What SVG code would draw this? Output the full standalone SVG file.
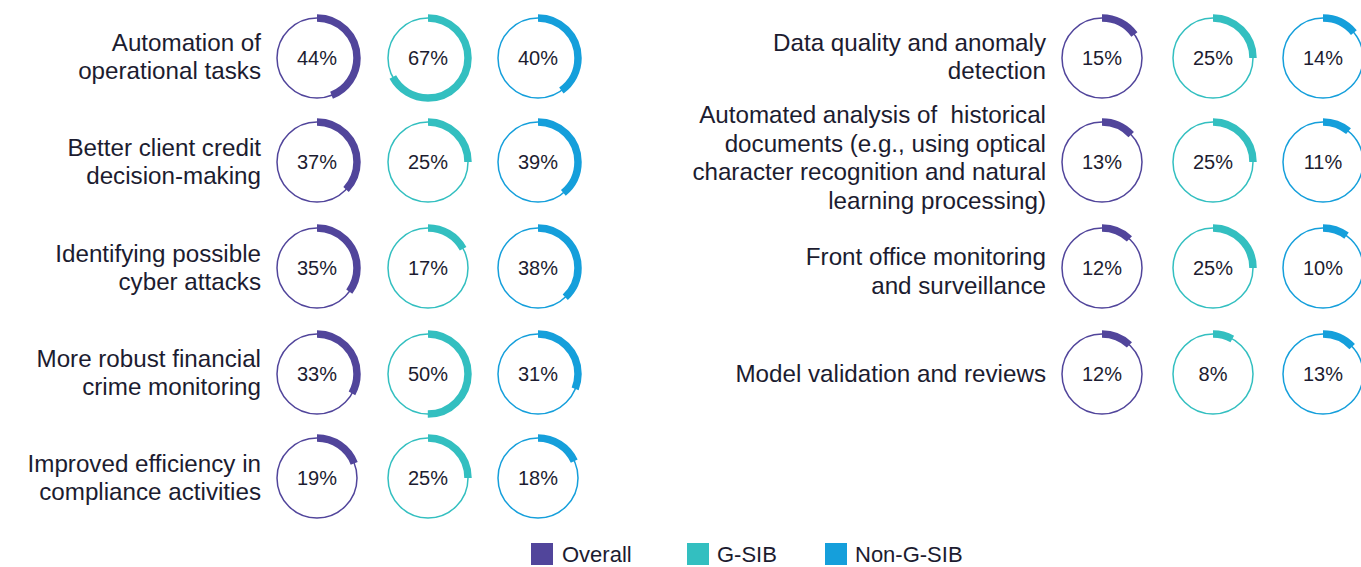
<svg xmlns="http://www.w3.org/2000/svg" width="1361" height="567" viewBox="0 0 1361 567">
<style>
text{font-family:"Liberation Sans",Arial,sans-serif;fill:#1c1c30}
.lbl{font-size:24.2px;text-anchor:end}
.pct{font-size:20px;text-anchor:middle}
.leg{font-size:22px}
.ring{fill:none;stroke-width:1.5}
.arc{fill:none;stroke-width:7.5}
.o{stroke:#51459b}.g{stroke:#33bfc0}.n{stroke:#159fdb}
</style>
<rect width="1361" height="567" fill="#fff"/>
<g id="row-automation">
<text class="lbl" x="261" y="51">Automation of</text>
<text class="lbl" x="261" y="79">operational tasks</text>
<circle class="ring o" cx="317" cy="58" r="40"/><circle class="arc o" cx="317" cy="58" r="40" stroke-dasharray="110.59 251.33" transform="rotate(-90 317 58)"/><text class="pct" x="317" y="65">44%</text>
<circle class="ring g" cx="428" cy="58" r="40"/><circle class="arc g" cx="428" cy="58" r="40" stroke-dasharray="168.39 251.33" transform="rotate(-90 428 58)"/><text class="pct" x="428" y="65">67%</text>
<circle class="ring n" cx="538" cy="58" r="40"/><circle class="arc n" cx="538" cy="58" r="40" stroke-dasharray="100.53 251.33" transform="rotate(-90 538 58)"/><text class="pct" x="538" y="65">40%</text>
</g>
<g id="row-credit">
<text class="lbl" x="261" y="156">Better client credit</text>
<text class="lbl" x="261" y="184">decision-making</text>
<circle class="ring o" cx="317" cy="162" r="40"/><circle class="arc o" cx="317" cy="162" r="40" stroke-dasharray="92.99 251.33" transform="rotate(-90 317 162)"/><text class="pct" x="317" y="169">37%</text>
<circle class="ring g" cx="428" cy="162" r="40"/><circle class="arc g" cx="428" cy="162" r="40" stroke-dasharray="62.83 251.33" transform="rotate(-90 428 162)"/><text class="pct" x="428" y="169">25%</text>
<circle class="ring n" cx="538" cy="162" r="40"/><circle class="arc n" cx="538" cy="162" r="40" stroke-dasharray="98.02 251.33" transform="rotate(-90 538 162)"/><text class="pct" x="538" y="169">39%</text>
</g>
<g id="row-cyber">
<text class="lbl" x="261" y="262">Identifying possible</text>
<text class="lbl" x="261" y="290">cyber attacks</text>
<circle class="ring o" cx="317" cy="268" r="40"/><circle class="arc o" cx="317" cy="268" r="40" stroke-dasharray="87.96 251.33" transform="rotate(-90 317 268)"/><text class="pct" x="317" y="275">35%</text>
<circle class="ring g" cx="428" cy="268" r="40"/><circle class="arc g" cx="428" cy="268" r="40" stroke-dasharray="42.73 251.33" transform="rotate(-90 428 268)"/><text class="pct" x="428" y="275">17%</text>
<circle class="ring n" cx="538" cy="268" r="40"/><circle class="arc n" cx="538" cy="268" r="40" stroke-dasharray="95.51 251.33" transform="rotate(-90 538 268)"/><text class="pct" x="538" y="275">38%</text>
</g>
<g id="row-crime">
<text class="lbl" x="261" y="367">More robust financial</text>
<text class="lbl" x="261" y="395">crime monitoring</text>
<circle class="ring o" cx="317" cy="374" r="40"/><circle class="arc o" cx="317" cy="374" r="40" stroke-dasharray="82.94 251.33" transform="rotate(-90 317 374)"/><text class="pct" x="317" y="381">33%</text>
<circle class="ring g" cx="428" cy="374" r="40"/><circle class="arc g" cx="428" cy="374" r="40" stroke-dasharray="125.66 251.33" transform="rotate(-90 428 374)"/><text class="pct" x="428" y="381">50%</text>
<circle class="ring n" cx="538" cy="374" r="40"/><circle class="arc n" cx="538" cy="374" r="40" stroke-dasharray="77.91 251.33" transform="rotate(-90 538 374)"/><text class="pct" x="538" y="381">31%</text>
</g>
<g id="row-compliance">
<text class="lbl" x="261" y="472">Improved efficiency in</text>
<text class="lbl" x="261" y="500">compliance activities</text>
<circle class="ring o" cx="317" cy="478" r="40"/><circle class="arc o" cx="317" cy="478" r="40" stroke-dasharray="47.75 251.33" transform="rotate(-90 317 478)"/><text class="pct" x="317" y="485">19%</text>
<circle class="ring g" cx="428" cy="478" r="40"/><circle class="arc g" cx="428" cy="478" r="40" stroke-dasharray="62.83 251.33" transform="rotate(-90 428 478)"/><text class="pct" x="428" y="485">25%</text>
<circle class="ring n" cx="538" cy="478" r="40"/><circle class="arc n" cx="538" cy="478" r="40" stroke-dasharray="45.24 251.33" transform="rotate(-90 538 478)"/><text class="pct" x="538" y="485">18%</text>
</g>
<g id="row-data-quality">
<text class="lbl" x="1046" y="51">Data quality and anomaly</text>
<text class="lbl" x="1046" y="79">detection</text>
<circle class="ring o" cx="1102" cy="58" r="40"/><circle class="arc o" cx="1102" cy="58" r="40" stroke-dasharray="37.70 251.33" transform="rotate(-90 1102 58)"/><text class="pct" x="1102" y="65">15%</text>
<circle class="ring g" cx="1213" cy="58" r="40"/><circle class="arc g" cx="1213" cy="58" r="40" stroke-dasharray="62.83 251.33" transform="rotate(-90 1213 58)"/><text class="pct" x="1213" y="65">25%</text>
<circle class="ring n" cx="1323" cy="58" r="40"/><circle class="arc n" cx="1323" cy="58" r="40" stroke-dasharray="35.19 251.33" transform="rotate(-90 1323 58)"/><text class="pct" x="1323" y="65">14%</text>
</g>
<g id="row-historical">
<text class="lbl" x="1046" y="123" xml:space="preserve">Automated analysis of  historical</text>
<text class="lbl" x="1046" y="152">documents (e.g., using optical</text>
<text class="lbl" x="1046" y="180">character recognition and natural</text>
<text class="lbl" x="1046" y="209">learning processing)</text>
<circle class="ring o" cx="1102" cy="162" r="40"/><circle class="arc o" cx="1102" cy="162" r="40" stroke-dasharray="32.67 251.33" transform="rotate(-90 1102 162)"/><text class="pct" x="1102" y="169">13%</text>
<circle class="ring g" cx="1213" cy="162" r="40"/><circle class="arc g" cx="1213" cy="162" r="40" stroke-dasharray="62.83 251.33" transform="rotate(-90 1213 162)"/><text class="pct" x="1213" y="169">25%</text>
<circle class="ring n" cx="1323" cy="162" r="40"/><circle class="arc n" cx="1323" cy="162" r="40" stroke-dasharray="27.65 251.33" transform="rotate(-90 1323 162)"/><text class="pct" x="1323" y="169">11%</text>
</g>
<g id="row-front-office">
<text class="lbl" x="1046" y="265">Front office monitoring</text>
<text class="lbl" x="1046" y="294">and surveillance</text>
<circle class="ring o" cx="1102" cy="268" r="40"/><circle class="arc o" cx="1102" cy="268" r="40" stroke-dasharray="30.16 251.33" transform="rotate(-90 1102 268)"/><text class="pct" x="1102" y="275">12%</text>
<circle class="ring g" cx="1213" cy="268" r="40"/><circle class="arc g" cx="1213" cy="268" r="40" stroke-dasharray="62.83 251.33" transform="rotate(-90 1213 268)"/><text class="pct" x="1213" y="275">25%</text>
<circle class="ring n" cx="1323" cy="268" r="40"/><circle class="arc n" cx="1323" cy="268" r="40" stroke-dasharray="25.13 251.33" transform="rotate(-90 1323 268)"/><text class="pct" x="1323" y="275">10%</text>
</g>
<g id="row-model-validation">
<text class="lbl" x="1046" y="382">Model validation and reviews</text>
<circle class="ring o" cx="1102" cy="374" r="40"/><circle class="arc o" cx="1102" cy="374" r="40" stroke-dasharray="30.16 251.33" transform="rotate(-90 1102 374)"/><text class="pct" x="1102" y="381">12%</text>
<circle class="ring g" cx="1213" cy="374" r="40"/><circle class="arc g" cx="1213" cy="374" r="40" stroke-dasharray="20.11 251.33" transform="rotate(-90 1213 374)"/><text class="pct" x="1213" y="381">8%</text>
<circle class="ring n" cx="1323" cy="374" r="40"/><circle class="arc n" cx="1323" cy="374" r="40" stroke-dasharray="32.67 251.33" transform="rotate(-90 1323 374)"/><text class="pct" x="1323" y="381">13%</text>
</g>
<g id="legend">
<rect x="531" y="543" width="22" height="22" fill="#51459b"/><text class="leg" x="562" y="562">Overall</text>
<rect x="687" y="543" width="22" height="22" fill="#33bfc0"/><text class="leg" x="717" y="562">G-SIB</text>
<rect x="825" y="543" width="22" height="22" fill="#159fdb"/><text class="leg" x="855" y="562">Non-G-SIB</text>
</g>
<g id="connectors"/>
</svg>
